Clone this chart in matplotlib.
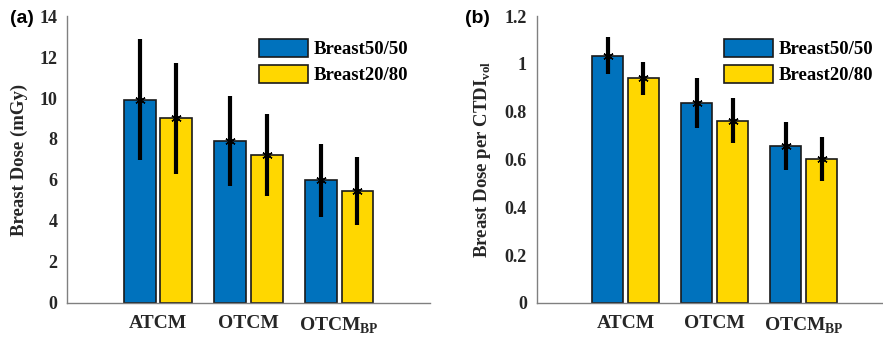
import matplotlib

matplotlib.use('Agg')

import matplotlib.pyplot as plt
from matplotlib.patches import Patch
import numpy as np

plt.rcParams['font.family'] = 'Liberation Serif'
plt.rcParams['mathtext.fontset'] = 'custom'
plt.rcParams['mathtext.bf'] = 'Liberation Serif:bold'
plt.rcParams['mathtext.rm'] = 'Liberation Serif:bold'

# data
categories = ['ATCM', 'OTCM', r'OTCM$_{\mathbf{BP}}$']
series_names = ['Breast50/50', 'Breast20/80']

dose_5050 = [9.92, 7.92, 5.98]
dose_5050_err = [2.95, 2.2, 1.8]
dose_2080 = [9.0, 7.2, 5.46]
dose_2080_err = [2.7, 2.0, 1.65]

norm_5050 = [1.034, 0.836, 0.658]
norm_5050_err = [0.077, 0.103, 0.1]
norm_2080 = [0.939, 0.762, 0.602]
norm_2080_err = [0.07, 0.095, 0.093]

blue = '#0072BD'
yellow = '#FFD700'
axis_grey = '#808080'


def draw_panel(ax, v1, e1, v2, e2, ylim, yticks, ytick_labels, ylabel, leg_x):
    x = np.arange(1, len(categories) + 1)
    w = 0.35
    off = 0.2
    ax.bar(x - off, v1, w, color=blue, edgecolor='#1a1a1a', linewidth=1.2, zorder=2)
    ax.bar(x + off, v2, w, color=yellow, edgecolor='#1a1a1a', linewidth=1.2, zorder=2)
    # asterisk marker + thick error bar, like matlab errorbar(...,'*')
    for xs, v, e in [(x - off, v1, e1), (x + off, v2, e2)]:
        ax.errorbar(xs, v, yerr=e, fmt='none', ecolor='black',
                    elinewidth=3, capsize=0, zorder=3)
        ax.plot(xs, v, linestyle='none', marker=(6, 2, 0), markersize=7.5,
                markeredgewidth=1.0, color='black', zorder=4)

    ax.set_xlim(0, 4)
    ax.set_ylim(*ylim)
    ax.set_yticks(yticks)
    ax.set_yticklabels(ytick_labels, fontsize=13, fontweight='bold', color='#262626')
    ax.set_xticks(x)
    ax.set_xticklabels(categories, fontsize=14, fontweight='bold', color='#262626')
    ax.tick_params(axis='both', length=0)
    ax.tick_params(axis='y', pad=7)
    ax.tick_params(axis='x', pad=9)
    for s in ['top', 'right']:
        ax.spines[s].set_visible(False)
    for s in ['left', 'bottom']:
        ax.spines[s].set_color(axis_grey)
        ax.spines[s].set_linewidth(1.0)
    ax.set_ylabel(ylabel, fontsize=13.5, fontweight='bold', color='#262626', labelpad=8)

    handles = [Patch(facecolor=blue, edgecolor='#1a1a1a', linewidth=1.2),
               Patch(facecolor=yellow, edgecolor='#1a1a1a', linewidth=1.2)]
    ax.legend(handles, series_names, loc='upper right', frameon=False,
              prop={'weight': 'bold', 'size': 13.5}, handlelength=2.6,
              handleheight=1.1, handletextpad=0.3, labelspacing=0.35,
              bbox_to_anchor=(leg_x, 0.98))


fig = plt.figure(figsize=(8.83, 3.39), dpi=100)

ax1 = fig.add_axes([0.0759, 0.1062, 0.4111, 0.8466])
draw_panel(ax1, dose_5050, dose_5050_err, dose_2080, dose_2080_err,
           (0, 14), np.arange(0, 15, 2), [str(t) for t in range(0, 15, 2)],
           'Breast Dose (mGy)', 0.986)

ax2 = fig.add_axes([0.6078, 0.1062, 0.4032, 0.8466])
draw_panel(ax2, norm_5050, norm_5050_err, norm_2080, norm_2080_err,
           (0, 1.2), np.arange(0, 1.21, 0.2), ['0', '0.2', '0.4', '0.6', '0.8', '1', '1.2'],
           r'Breast Dose per CTDI$_{\mathbf{vol}}$', 0.992)

fig.text(10 / 883, 1 - 10 / 339, '(a)', family='Liberation Sans', fontweight='bold',
         fontsize=14, va='top', ha='left')
fig.text(465 / 883, 1 - 10 / 339, '(b)', family='Liberation Sans', fontweight='bold',
         fontsize=14, va='top', ha='left')

fig.savefig('out.png', dpi=100)
